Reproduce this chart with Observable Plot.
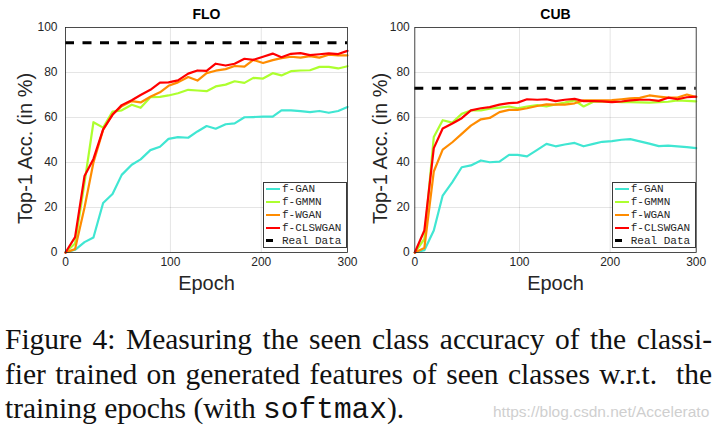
<!DOCTYPE html>
<html><head><meta charset="utf-8">
<script src="https://cdn.jsdelivr.net/npm/d3@7"></script>
<script src="https://cdn.jsdelivr.net/npm/@observablehq/plot@0.6"></script>
<style>
html,body{margin:0;padding:0;background:#fff;}
#root{position:relative;width:719px;height:435px;overflow:hidden;font-family:"Liberation Sans",Arial,sans-serif;}
#charts{display:flex;position:absolute;left:0;top:0;}
.panel{position:relative;height:300px;}
.legend{position:absolute;border:1px solid #3a3a3a;background:#fff;font-family:"Liberation Mono","DejaVu Sans Mono",monospace;font-size:11px;color:#262626;}
.legend .row{display:flex;align-items:center;height:12.8px;white-space:nowrap;}
.legend .sw{width:14px;height:2px;margin-left:2px;margin-right:2px;flex:none;}
.legend .sw.dash{width:7px;height:3px;margin-right:9px;background:#000;}
.caption{position:absolute;left:5px;top:322px;width:707px;font-family:"Liberation Serif","Times New Roman",serif;font-size:29.5px;line-height:34.5px;color:#111;}
.caption .j{white-space:nowrap;text-align:justify;text-align-last:justify;}
.caption .l{white-space:nowrap;}
.mono{font-family:"Liberation Mono","DejaVu Sans Mono",monospace;}
.wm{position:absolute;left:493px;top:403px;font-family:"Liberation Sans",Arial,sans-serif;font-size:15.5px;line-height:18px;color:#cfcfcf;white-space:nowrap;}
</style></head>
<body>
<div id="root">
  <div id="charts"></div>
  <div class="caption">
    <div class="j">Figure 4: Measuring the seen class accuracy of the classi-</div>
    <div class="j">fier trained on generated features of seen classes w.r.t.&nbsp; the</div>
    <div class="l">training epochs (with <span class="mono">softmax</span>).</div>
  </div>
  <div class="wm">https://blog.csdn.net/Accelerato</div>
</div>
<script>
// x positions (epochs) of the plotted vertices
const epochs = [0, 7, 15, 23, 32, 41, 50, 60, 69, 79, 89, 98, 108, 119, 129, 139, 149, 160, 170, 181, 191, 202, 213, 223, 234, 245, 256, 267, 278, 289, 300];
const methods = ["f-GAN", "f-GMMN", "f-WGAN", "f-CLSWGAN"];
const colors = ["#40E6D2", "#ADFF2F", "#FF8C00", "#FF0000"];
const realLabel = "Real Data";
const panelTitles = ["FLO", "CUB"];
const xTicks = [0, 100, 200, 300];
const yTicks = [0, 20, 40, 60, 80, 100];

const floGAN = [0, 1.2, 4.6, 6.7, 22, 26, 34.5, 39, 41.4, 45.5, 47, 50.5, 51.3, 51, 53.8, 56.2, 55, 57, 57.4, 60.1, 60.2, 60.4, 60.4, 63.2, 63.2, 62.8, 62.4, 62.9, 62.1, 62.9, 64.7];
const floGMMN = [0, 4, 31, 57.9, 55.5, 62.6, 63.2, 65.7, 64.3, 69, 69.2, 69.8, 70.8, 72.3, 72, 71.7, 73.8, 74.6, 76.1, 75.4, 77.6, 77.3, 79.7, 78.7, 80.6, 80.9, 81, 82.5, 82.5, 81.8, 82.8];
const floWGAN = [0, 1.5, 20, 40, 54.5, 61.5, 65, 67.3, 66.7, 69.2, 71.2, 74.1, 75.6, 78, 76.4, 79.7, 80.8, 81.5, 82.9, 82.6, 85.6, 84.2, 85.5, 86.4, 87, 86.6, 87.3, 86.6, 87.9, 87.6, 87.6];
const floCLSWGAN = [0, 6.8, 34, 41.6, 54.7, 61.2, 65.5, 67.7, 70, 72.3, 75.5, 75.6, 76.5, 79.5, 80.9, 80.7, 83.9, 83.1, 83.9, 86.1, 85.6, 87, 88.4, 86.8, 88.3, 88.6, 87.7, 88.1, 88.5, 88.2, 89.6];
const floReal = 93.2;

const cubGAN = [0, 1, 9.8, 25.3, 31.3, 37.9, 38.7, 40.9, 40.1, 40.4, 43.4, 43.4, 42.7, 45.6, 48.3, 47.2, 48, 48.7, 47.2, 48.3, 49.2, 49.5, 50.1, 50.4, 49.4, 48.4, 47.3, 47.5, 47.2, 46.8, 46.4];
const cubGMMN = [0, 6, 51.3, 58.8, 57.7, 61.6, 63.1, 63.2, 63.9, 64.4, 64.9, 64.1, 64.9, 65.5, 64.9, 65.8, 66.6, 67.6, 64.9, 67, 67, 67, 66.8, 66.8, 66.7, 66.6, 66.8, 67, 67.6, 67.4, 67.2];
const cubWGAN = [0, 2, 36, 45.7, 49, 52.7, 56.4, 59.2, 59.8, 62.4, 63.4, 63.4, 64.1, 65.1, 65.8, 65.7, 65.7, 66.3, 67.6, 67.6, 67.6, 67.7, 68.1, 68.5, 68.7, 69.8, 69.3, 68.8, 68.9, 70.2, 69.1];
const cubCLSWGAN = [0, 9.8, 46.4, 55.1, 57.3, 59.7, 63.2, 64.1, 64.6, 65.7, 66.4, 66.6, 68.1, 67.9, 68.1, 67.3, 67.9, 68.3, 67.3, 67.3, 67.2, 66.8, 67.1, 67.6, 67.9, 67.9, 67.4, 68.8, 68.1, 69, 69.3];
const cubReal = 73.0;

const panels = [
  {title: panelTitles[0], series: [floGAN, floGMMN, floWGAN, floCLSWGAN], real: floReal,
   width: 360, left: 65, right: 13, pad: 8, ylab: -40, legendLeft: 263},
  {title: panelTitles[1], series: [cubGAN, cubGMMN, cubWGAN, cubCLSWGAN], real: cubReal,
   width: 359, left: 54.3, right: 23.3, pad: 5, ylab: -34.3, legendLeft: 251.7}
];

const root = document.getElementById("charts");
panels.forEach(p => {
  const rows = [];
  p.series.forEach((vals, k) => vals.forEach((v, i) => rows.push({epoch: epochs[i], acc: v, method: methods[k]})));
  const chart = Plot.plot({
    width: p.width, height: 300,
    marginLeft: p.left, marginRight: p.right, marginTop: 27, marginBottom: 48,
    style: {fontFamily: "Liberation Sans, Arial, sans-serif", fontSize: "12px", color: "#262626", background: "white", overflow: "visible"},
    x: {type: "pow", exponent: 0.9, domain: [0, 300]},
    y: {domain: [0, 100]},
    color: {domain: methods, range: colors},
    marks: [
      Plot.gridX({ticks: xTicks, stroke: "#262626", strokeOpacity: 0.12}),
      Plot.gridY({ticks: yTicks, stroke: "#262626", strokeOpacity: 0.12}),
      Plot.axisX({ticks: xTicks, tickSize: 0, tickPadding: 5, label: null, fill: "#262626"}),
      Plot.axisY({ticks: yTicks, tickSize: 0, tickPadding: p.pad, label: null, fill: "#262626"}),
      Plot.line(rows, {x: "epoch", y: "acc", z: "method", stroke: "method", strokeWidth: 2.2}),
      Plot.ruleY([p.real], {stroke: "black", strokeWidth: 3, strokeDasharray: "9,8.5"}),
      Plot.frame({stroke: "#262626", strokeWidth: 0.8}),
      Plot.text([p.title], {frameAnchor: "top", lineAnchor: "middle", textAnchor: "middle", dy: -13, fontWeight: "bold", fontSize: 14, fill: "black"}),
      Plot.text(["Epoch"], {frameAnchor: "bottom", lineAnchor: "middle", textAnchor: "middle", dy: 31, fontSize: 20, fill: "#262626"}),
      Plot.text(["Top-1 Acc. (in %)"], {frameAnchor: "left", lineAnchor: "middle", textAnchor: "middle", rotate: -90, dx: p.ylab, dy: 8.5, fontSize: 20, fill: "#262626"})
    ]
  });
  const panel = document.createElement("div");
  panel.className = "panel";
  panel.style.width = p.width + "px";
  panel.appendChild(chart);
  const lg = document.createElement("div");
  lg.className = "legend";
  lg.style.left = p.legendLeft + "px";
  lg.style.top = "182px";
  lg.style.width = "82px";
  methods.forEach((m, k) => {
    const r = document.createElement("div"); r.className = "row";
    const s = document.createElement("div"); s.className = "sw"; s.style.background = colors[k];
    const t = document.createElement("span"); t.textContent = m;
    r.appendChild(s); r.appendChild(t); lg.appendChild(r);
  });
  const rr = document.createElement("div"); rr.className = "row";
  const ds = document.createElement("div"); ds.className = "sw dash";
  const rt = document.createElement("span"); rt.textContent = realLabel;
  rr.appendChild(ds); rr.appendChild(rt); lg.appendChild(rr);
  panel.appendChild(lg);
  root.appendChild(panel);
});
</script>
</body></html>
